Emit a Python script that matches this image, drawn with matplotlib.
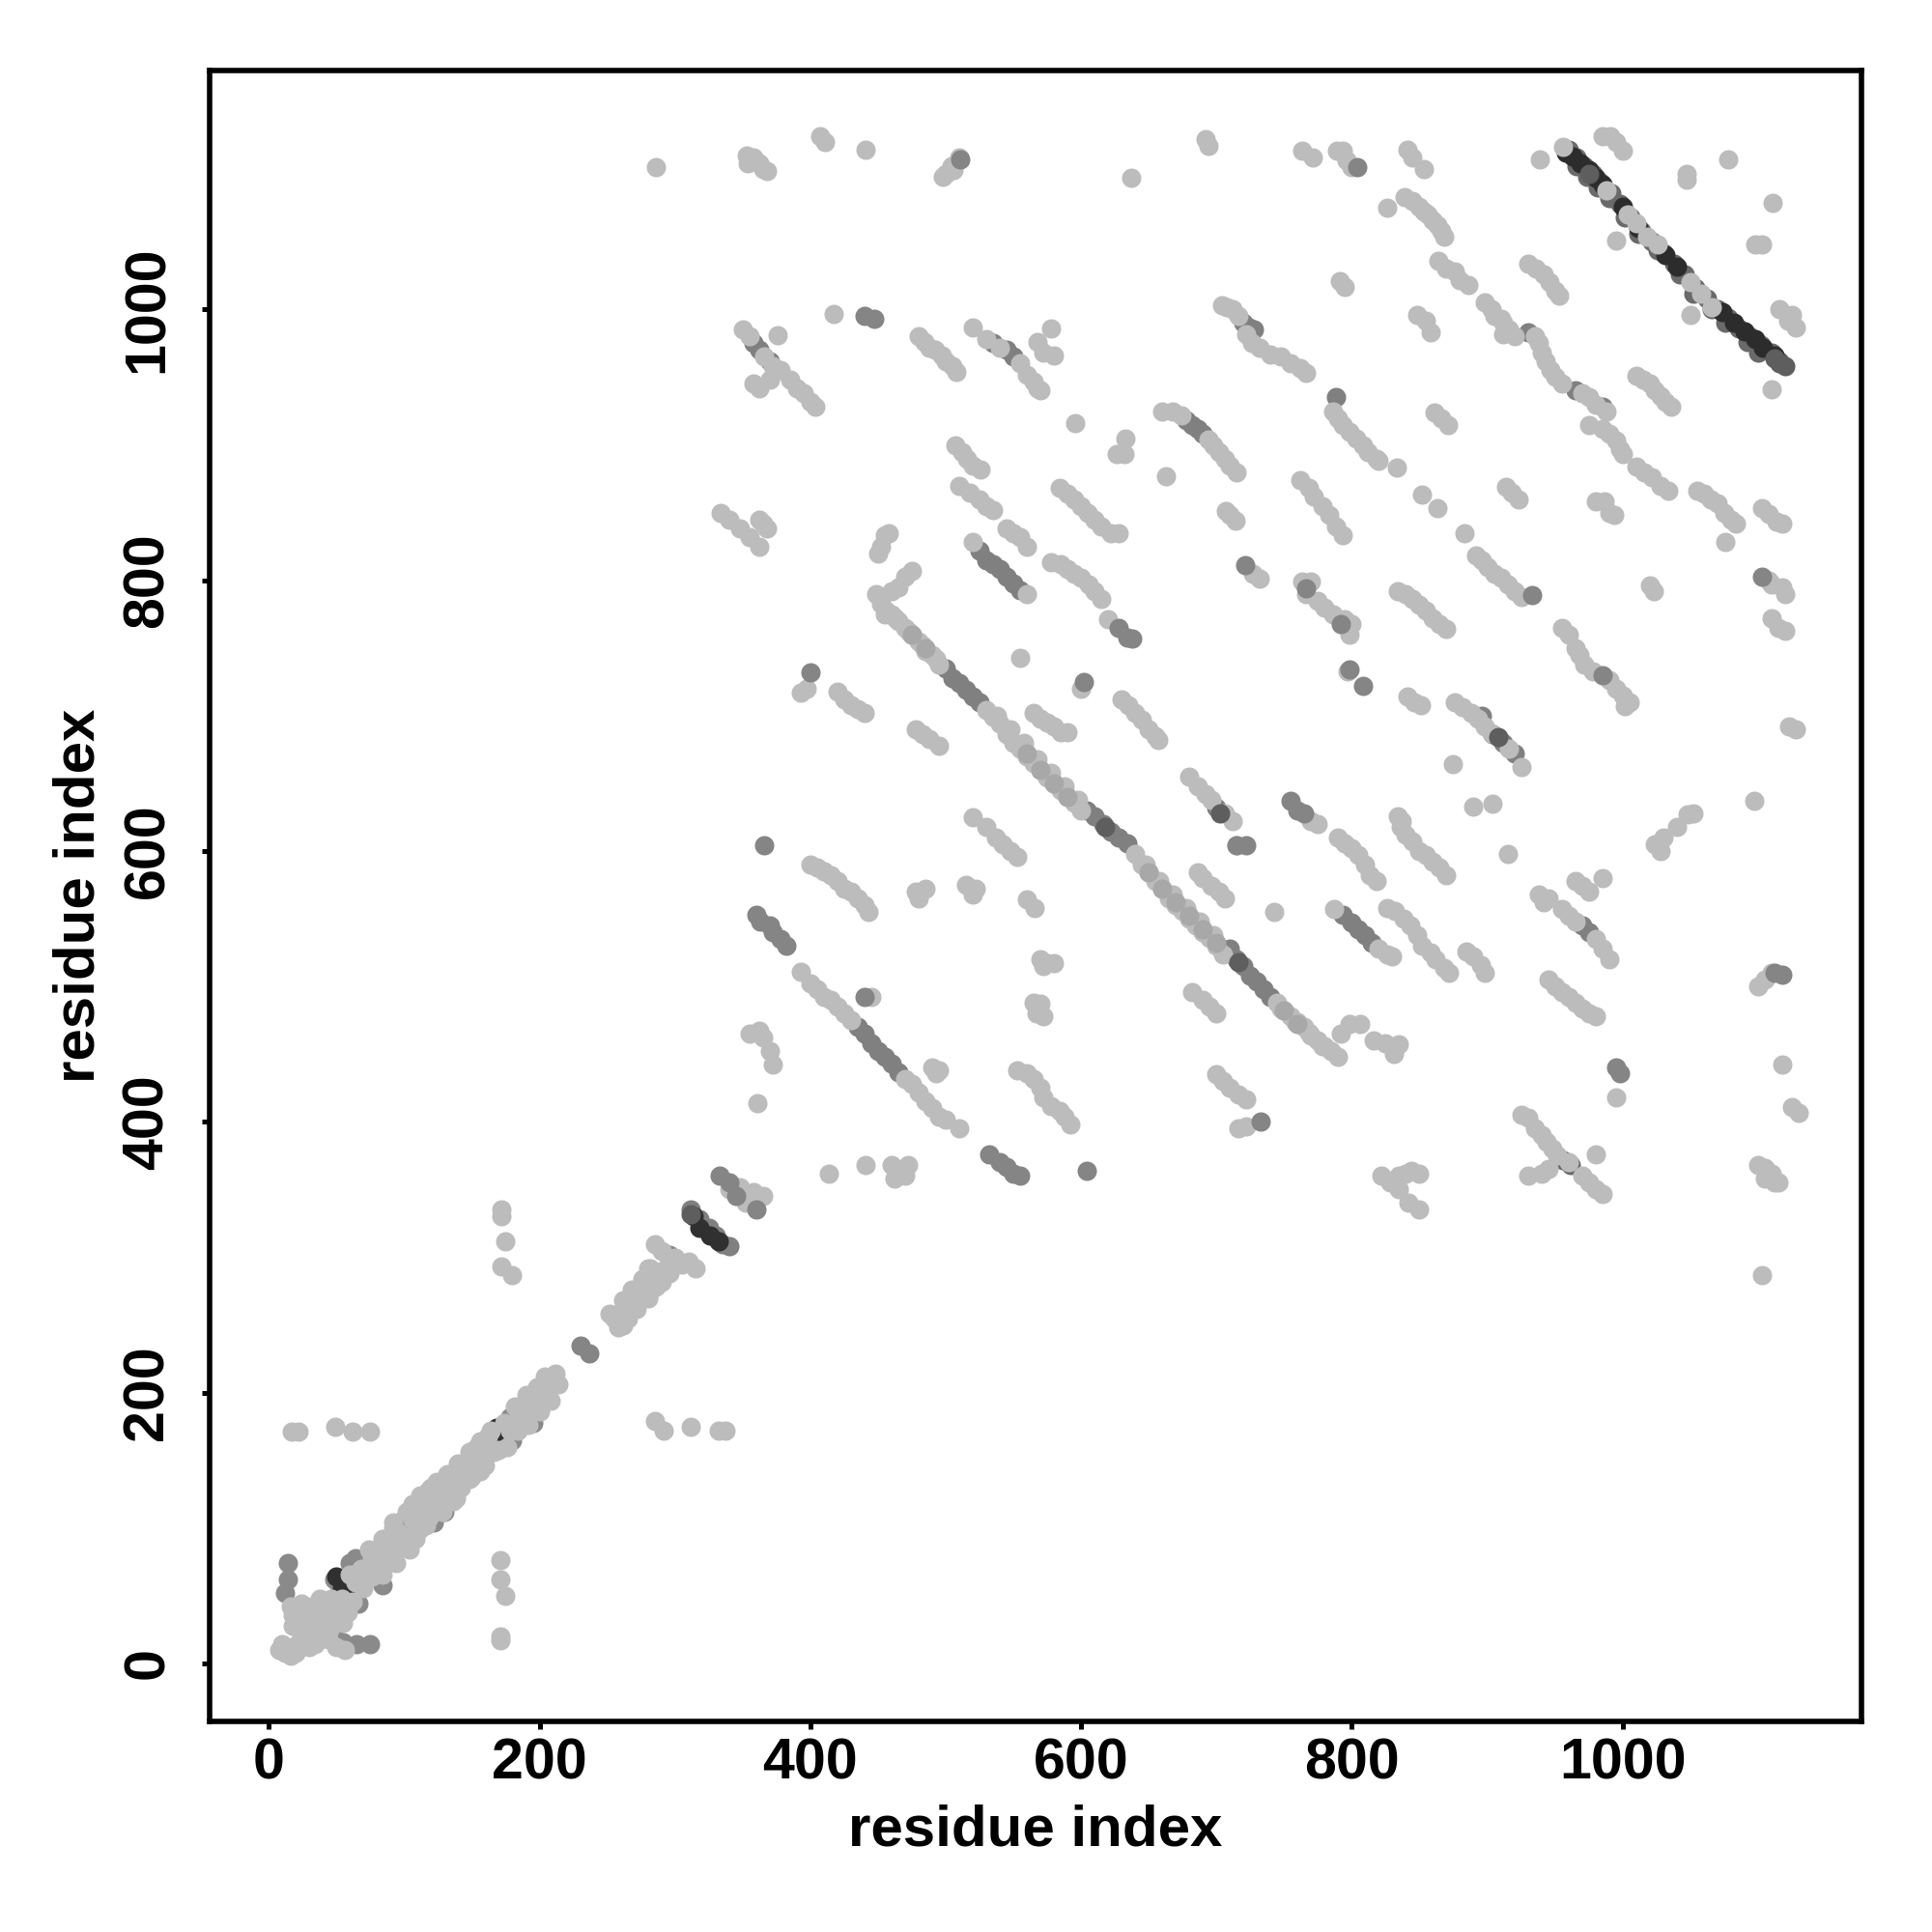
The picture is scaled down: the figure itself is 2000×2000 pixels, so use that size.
import numpy as np
import matplotlib
matplotlib.use("Agg")
import matplotlib.pyplot as plt

plt.rcParams["font.family"] = ["Liberation Sans", "DejaVu Sans"]
plt.rcParams["font.weight"] = "bold"

ticks = [0, 200, 400, 600, 800, 1000]

# residue pairs, grouped by grey level
diag_under = [
    (14, 74), (14, 62), (12, 52), (55, 16), (65, 14), (75, 14), (50, 18), (48, 62), (52, 58), (56, 60), (58, 50),
    (62, 62), (66, 44), (60, 74), (64, 78), (72, 72), (78, 66), (84, 58), (82, 74), (94, 84), (100, 106), (112, 100),
    (112, 120), (122, 104), (130, 112), (118, 128), (142, 144), (152, 158), (160, 160), (178, 182), (180, 165), (190, 190),
    (195, 178), (260, 250), (280, 272), (296, 302), (300, 296),
]
diag_black = [(50, 64), (54, 56), (58, 54), (168, 174), (172, 168), (176, 172), (314, 330), (318, 322), (326, 316), (332, 312)]
diag_light = [
    (8, 10), (12, 8), (16, 6), (10, 14), (18, 12), (20, 8), (24, 22), (20, 30), (18, 36), (16, 42), (24, 44),
    (28, 16), (32, 20), (28, 26), (34, 14), (36, 26), (30, 36), (36, 38), (40, 22), (44, 32), (40, 44), (46, 48), (48, 38),
    (52, 34), (44, 18), (50, 12), (56, 10), (72, 64), (76, 78), (80, 72), (84, 66), (86, 86), (90, 80), (94, 74), (96, 96),
    (100, 90), (104, 84), (106, 106), (110, 98), (114, 114), (118, 108), (122, 122), (126, 116), (130, 132), (134, 124),
    (138, 140), (142, 130), (146, 146), (150, 138), (154, 160), (158, 150), (162, 168), (166, 156), (170, 158), (178, 172),
    (182, 178), (186, 186), (190, 182), (194, 196), (198, 190), (202, 202), (206, 198), (210, 210), (214, 206), (212, 214),
    (60, 66), (64, 60), (68, 70), (70, 56), (106, 118), (92, 100), (124, 134), (138, 122),
    (25, 30), (30, 30), (35, 30), (40, 30), (25, 38), (32, 42), (38, 48), (45, 45), (50, 40), (45, 25), (38, 18), (30, 12),
    (22, 15), (18, 28), (55, 30), (58, 38), (62, 46), (54, 48), (76, 64), (88, 76), (98, 86), (108, 92), (116, 102), (128, 112),
    (136, 120), (74, 84), (84, 92), (92, 104), (102, 112), (112, 124), (120, 130), (132, 140), (140, 148), (148, 136), (150, 152),
    (156, 142), (160, 146), (148, 156), (156, 164), (164, 172), (176, 160), (184, 172), (192, 176), (174, 178), (182, 190), (190, 198),
    (198, 204), (204, 212), (200, 186), (208, 194),
    (255, 255), (260, 260), (265, 265), (270, 270), (275, 275), (280, 280), (285, 287), (290, 290), (262, 250),
    (258, 248), (265, 255), (272, 262), (280, 270), (286, 278), (262, 268), (268, 276), (276, 284), (282, 292), (252, 258), (290, 282), (296, 288),
    (285, 310), (290, 305), (295, 300), (300, 300), (305, 295), (310, 297), (315, 292), (280, 292),
    (172, 335), (172, 330), (175, 312), (172, 293), (180, 287), (17, 171), (22, 171), (49, 175), (62, 171), (75, 171),
    (285, 179), (292, 172), (312, 175), (332, 172), (337, 172), (171, 76), (171, 62), (175, 50), (171, 20), (171, 17),
    (348, 352), (352, 340), (358, 348), (365, 345), (340, 350),
]
main_under = [
    (960, 1118), (966, 1112), (972, 1106), (978, 1100), (984, 1094), (992, 1086), (998, 1078), (1006, 1068), (1014, 1058),
    (1022, 1050), (1030, 1042), (1038, 1034), (1046, 1026), (1054, 1016), (1062, 1008), (1070, 1000), (1078, 994), (1086, 986),
    (1094, 980), (1102, 974), (1110, 968), (1116, 962), (956, 372), (962, 368), (966, 1106), (974, 1098), (982, 1090),
    (990, 1082), (1002, 1068), (1012, 1056), (1026, 1044), (1042, 1026), (1052, 1012), (1066, 1000), (1076, 990), (1092, 976),
    (1100, 968),
]
main_black = [
    (958, 1116), (963, 1113), (969, 1108), (975, 1103), (980, 1097), (985, 1092), (1000, 1076), (1012, 1060), (1032, 1040),
    (1040, 1032), (1074, 998), (1082, 990), (1090, 984), (1098, 978), (1104, 972), (1112, 966),
]
strip_mid_under = [
    (720, 990), (724, 987), (728, 985), (930, 983), (985, 928), (965, 940), (358, 975), (362, 970), (370, 962), (535, 975),
    (545, 970), (550, 965), (530, 815), (525, 822), (535, 812), (540, 808), (545, 803), (550, 798), (555, 793), (678, 918),
    (682, 915), (686, 912), (690, 908), (800, 547), (805, 542), (810, 538), (815, 532), (793, 553), (970, 545), (975, 540),
    (435, 470), (440, 465), (445, 458), (450, 452), (455, 448), (460, 443), (465, 437), (500, 735), (505, 728), (510, 724),
    (515, 719), (520, 714), (525, 710), (604, 630), (610, 626), (616, 620), (622, 614), (628, 610), (634, 606), (710, 528),
    (715, 520), (720, 515), (725, 508), (730, 504), (735, 498), (740, 492), (896, 700), (904, 686), (912, 680), (920, 672),
    (788, 935), (700, 632), (312, 335), (318, 328), (325, 322), (330, 316), (335, 310), (340, 308),
]
light = [
    (286, 1105), (353, 1114), (355, 1110), (358, 1112), (362, 1108), (365, 1104), (368, 1102), (354, 1108), (407, 1128),
    (411, 1124), (441, 1118), (498, 1098), (504, 1106), (510, 1112), (500, 1100), (506, 1103), (637, 1097), (692, 1126), (694, 1121),
    (763, 1117), (771, 1112), (789, 1117), (793, 1117), (796, 1110), (800, 1105), (841, 1118), (845, 1112), (853, 1104), (939, 1111),
    (985, 1128), (991, 1128), (995, 1124), (1000, 1117), (995, 1051), (1047, 1100), (1047, 1096), (1078, 1111), (1111, 1079),
    (1098, 1048), (1103, 1048), (1050, 996), (1116, 1000), (1125, 996), (1128, 987), (1122, 992), (1110, 941), (956, 1120),
    (988, 1088), (1004, 1070), (1010, 1064), (1018, 1054), (1026, 1048), (1050, 1020), (1058, 1012), (1066, 1002),
    (704, 1003), (708, 1002), (712, 1000), (716, 995), (722, 982), (726, 975), (732, 972), (740, 967), (748, 965), (755, 960),
    (762, 957), (766, 953), (848, 996), (855, 992), (858, 983), (898, 1005), (903, 1000), (905, 995), (910, 993), (912, 990),
    (916, 985), (920, 980), (912, 982), (935, 980), (938, 975), (940, 968), (943, 962), (947, 955), (950, 950), (955, 945),
    (970, 938), (975, 935), (980, 930), (988, 925), (975, 915), (985, 912), (990, 908), (995, 903), (998, 897), (1000, 893),
    (826, 1075), (839, 1083), (845, 1080), (850, 1076), (853, 1072), (856, 1070), (860, 1066), (863, 1062), (866, 1058), (868, 1054),
    (864, 1036), (870, 1030), (876, 1028), (880, 1022), (886, 1018), (930, 1034), (936, 1030), (942, 1026), (946, 1020), (950, 1014),
    (953, 1010), (791, 1021), (795, 1017), (1010, 951), (1015, 948), (1020, 945), (1024, 940), (1028, 936), (1032, 932), (1036, 928),
    (1010, 884), (1016, 880), (1022, 876), (1028, 870), (1034, 866), (1055, 866), (1060, 864), (1065, 860), (1070, 857), (1075, 850),
    (1080, 845), (1084, 842), (1076, 828), (1103, 853), (1114, 843), (1108, 849), (1118, 842), (980, 858), (987, 858), (994, 848),
    (990, 850), (914, 869), (923, 860), (918, 865), (861, 924), (871, 915), (866, 920), (833, 883), (852, 863), (863, 853), (883, 835),
    (892, 818), (896, 815), (900, 810), (905, 805), (910, 802), (915, 797), (920, 792), (925, 788), (786, 925), (790, 920), (793, 915),
    (798, 910), (803, 905), (808, 900), (812, 895), (818, 890), (820, 888), (707, 851), (714, 844), (710, 848), (727, 805), (732, 801),
    (762, 874), (768, 868), (772, 862), (778, 855), (783, 848), (788, 840), (793, 833), (763, 799), (770, 799), (766, 790), (775, 785),
    (786, 775), (780, 780), (795, 771), (800, 768), (798, 760), (797, 733), (834, 792), (840, 790), (845, 786), (850, 782), (855, 778),
    (860, 772), (865, 768), (870, 764), (841, 714), (851, 708), (846, 710), (876, 710), (882, 706), (888, 702), (893, 698), (898, 692),
    (903, 687), (916, 676), (925, 662), (875, 664), (890, 633), (904, 635), (915, 598), (834, 626), (837, 622), (836, 618), (840, 612),
    (845, 607), (850, 600), (855, 597), (860, 592), (865, 588), (870, 582), (790, 610), (795, 606), (800, 602), (805, 597), (810, 590),
    (813, 582), (818, 578), (787, 557), (820, 528), (826, 524), (830, 522), (826, 558), (832, 556), (838, 550), (843, 545), (848, 538),
    (852, 530), (858, 525), (862, 520), (868, 514), (872, 510), (885, 526), (890, 522), (895, 516), (898, 510), (792, 465), (798, 472),
    (806, 472), (816, 460), (825, 458), (835, 457), (831, 450), (770, 622), (775, 620), (680, 655), (686, 648), (692, 642), (696, 638),
    (706, 628), (712, 622), (715, 604), (686, 584), (690, 580), (696, 574), (702, 570), (706, 565), (743, 555), (682, 496), (690, 490),
    (695, 485), (700, 480), (700, 435), (705, 430), (710, 425), (716, 420), (722, 417), (716, 395), (722, 397), (822, 360), (828, 355),
    (835, 360), (840, 362), (844, 364), (850, 362), (835, 350), (842, 340), (850, 335), (925, 405), (930, 403), (935, 395), (940, 390), (944, 385), (948, 380),
    (952, 375), (960, 370), (970, 360), (975, 355), (980, 350), (985, 347), (930, 360), (945, 365), (940, 362), (980, 376), (938, 568),
    (945, 565), (942, 562), (965, 578), (970, 574), (985, 580), (975, 570), (955, 557), (960, 552), (965, 548), (980, 535), (985, 528),
    (990, 520), (945, 505), (950, 500), (955, 496), (960, 492), (965, 488), (970, 484), (975, 480), (980, 478), (995, 418), (1100, 500),
    (1105, 505), (1110, 510), (1118, 442), (1125, 411), (1130, 407), (1100, 368), (1105, 366), (1110, 362), (1115, 355), (1105, 358),
    (1112, 355), (1103, 287), (1123, 692), (1128, 690), (1108, 800), (1110, 797), (1118, 795), (1120, 790), (1110, 772), (1115, 765),
    (1120, 763), (1097, 637), (1024, 605), (1030, 610), (1040, 618), (1048, 627), (1052, 628), (1028, 600), (955, 765), (960, 760),
    (965, 750), (968, 745), (972, 738), (978, 733), (990, 726), (995, 720), (1000, 715), (1005, 710), (1002, 707), (1020, 796), (1023, 792),
    (350, 985), (355, 980), (366, 965), (372, 958), (378, 955), (385, 948), (390, 942), (395, 938), (400, 932), (404, 928), (358, 945),
    (362, 942), (370, 948), (376, 981), (417, 997), (480, 980), (484, 976), (488, 972), (492, 970), (497, 966), (500, 962), (505, 958),
    (508, 954), (520, 987), (530, 978), (540, 972), (555, 960), (560, 952), (565, 947), (568, 942), (570, 940), (578, 986), (568, 976),
    (572, 968), (580, 966), (596, 916), (633, 905), (632, 893), (626, 893), (663, 877), (660, 925), (668, 925), (674, 922), (694, 904),
    (698, 900), (702, 895), (706, 890), (710, 885), (715, 880), (507, 900), (512, 895), (516, 890), (520, 885), (526, 882), (510, 870),
    (518, 865), (525, 860), (530, 855), (535, 852), (545, 838), (550, 835), (555, 832), (560, 825), (520, 828), (560, 790), (584, 868),
    (590, 864), (595, 860), (600, 855), (605, 850), (610, 845), (615, 840), (622, 835), (628, 835), (578, 813), (585, 812), (590, 808),
    (595, 805), (600, 802), (606, 797), (610, 792), (615, 786), (620, 771), (630, 712), (635, 708), (640, 702), (645, 697), (650, 690),
    (655, 685), (657, 682), (600, 720), (555, 743), (565, 702), (570, 698), (575, 695), (580, 692), (585, 688), (590, 688),
    (449, 790), (452, 783), (456, 778), (460, 775), (465, 770), (470, 765), (475, 760), (480, 755), (485, 748), (490, 745), (495, 738),
    (530, 704), (535, 699), (540, 694), (545, 686), (550, 680), (555, 676), (560, 670), (565, 665), (570, 660), (575, 654), (580, 650), (585, 645),
    (590, 640), (595, 636), (600, 630), (640, 598), (645, 590), (650, 584), (655, 578), (660, 572), (665, 565), (670, 560),
    (675, 556), (680, 550), (685, 545), (690, 540), (695, 536), (700, 530), (705, 524), (745, 488), (750, 482), (755, 478), (760, 474),
    (765, 470), (770, 464), (775, 460), (780, 456), (785, 452), (790, 448), (455, 775), (463, 772), (473, 762), (483, 752), (493, 742),
    (538, 700), (548, 690), (558, 680), (568, 668), (578, 658), (588, 648), (598, 638), (648, 590), (658, 578), (668, 568), (678, 558),
    (688, 548), (698, 538), (748, 484), (758, 474), (768, 466), (778, 456), (455, 833), (458, 835), (452, 825), (450, 820), (475, 807),
    (465, 795), (470, 803), (460, 792), (334, 850), (340, 845), (348, 838), (355, 832), (362, 825), (362, 845), (365, 842), (368, 838),
    (393, 717), (397, 720), (420, 718), (425, 712), (430, 708), (435, 705), (440, 702), (478, 690), (483, 686), (488, 683), (495, 678),
    (400, 590), (405, 588), (410, 585), (415, 582), (420, 578), (425, 572), (430, 570), (435, 565), (440, 560), (443, 555), (478, 570),
    (485, 572), (480, 565), (515, 575), (522, 572), (520, 568), (520, 625), (530, 618), (537, 610), (542, 605), (548, 600), (553, 596),
    (560, 564), (566, 558), (570, 520), (575, 517), (580, 517), (572, 515), (565, 488), (570, 487), (567, 480), (572, 478), (393, 511),
    (400, 502), (405, 498), (410, 492), (415, 490), (420, 485), (425, 480), (430, 475), (470, 432), (475, 428), (480, 422), (485, 415),
    (490, 410), (495, 404), (500, 402), (510, 395), (445, 492), (490, 440), (495, 438), (493, 436), (553, 438), (560, 436), (565, 432),
    (570, 425), (572, 418), (578, 412), (584, 408), (588, 404), (592, 398), (355, 465), (362, 467), (365, 462), (370, 452), (372, 442),
    (361, 414), (414, 362), (441, 368), (460, 368), (465, 362), (470, 360), (462, 358), (472, 368),
]
soft = [
    (560, 672), (570, 660), (580, 650), (590, 640), (650, 584), (660, 572), (670, 562), (680, 552), (690, 542), (700, 532),
    (475, 760), (485, 750), (750, 482), (760, 472),
]
mid_over = [
    (511, 1111), (804, 1105), (440, 995), (447, 993), (628, 765), (634, 758), (638, 757), (602, 725), (933, 789), (721, 811),
    (792, 768), (798, 734), (808, 722), (766, 794), (755, 637), (760, 630), (765, 628), (715, 604), (722, 604), (733, 400),
    (985, 730), (995, 440), (998, 436), (1112, 510), (1118, 509), (1103, 803), (400, 732), (366, 604), (360, 553), (363, 548),
    (370, 545), (372, 540), (378, 535), (382, 530), (440, 492), (532, 376), (540, 370), (545, 367), (550, 362), (555, 360), (604, 364),
    (230, 235), (237, 229), (333, 360), (340, 355), (345, 345), (360, 335),
]
dark_over = [(908, 684), (703, 628), (975, 1100), (1116, 960), (1120, 958), (1112, 964), (618, 618), (716, 518), (312, 332)]

fig = plt.figure(figsize=(10, 10), dpi=200)
ax = fig.add_axes([217 / 2000, 1 - 1782 / 2000, 1710 / 2000, 1709 / 2000])

layers = [
    (strip_mid_under, "#808080"),
    (diag_under, "#8a8a8a"),
    (main_under, "#6a6a6a"),
    (main_black, "#2c2c2c"),
    (diag_black, "#303030"),
    (light, "#bcbcbc"),
    (diag_light, "#bcbcbc"),
    (soft, "#a8a8a8"),
    (mid_over, "#858585"),
    (dark_over, "#5e5e5e"),
]
for pts, colour in layers:
    pts = np.array(pts)
    ax.scatter(pts[:, 0], pts[:, 1], s=52, color=colour, linewidths=0)

ax.set_xlim(-43.7, 1176.5)
ax.set_ylim(-42.8, 1176.5)
ax.set_xticks(ticks)
ax.set_yticks(ticks)
ax.tick_params(length=3, width=1.8, labelsize=21.3)
ax.tick_params(axis="x", pad=3)
ax.tick_params(axis="y", pad=10)
plt.setp(ax.get_yticklabels(), rotation=90, va="center")
for side in ax.spines.values():
    side.set_linewidth(2.0)
ax.set_xlabel("residue index", fontsize=21.6, fontweight="bold")
ax.set_ylabel("residue index", fontsize=21.6, fontweight="bold")
ax.xaxis.set_label_coords(0.5, -0.05)
ax.yaxis.set_label_coords(-0.063, 0.5)

fig.savefig("out.png", dpi=200, facecolor="white")
